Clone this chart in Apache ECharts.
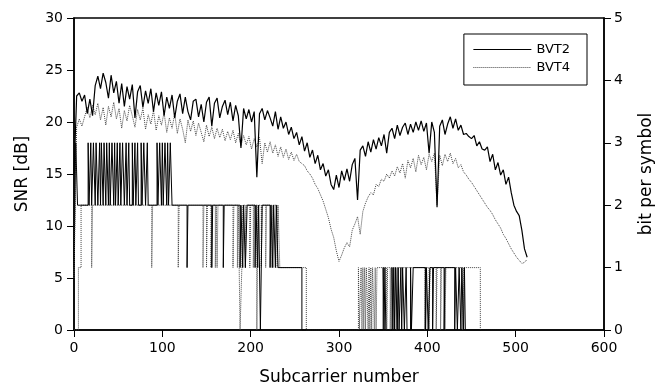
<!DOCTYPE html>
<html><head><meta charset="utf-8">
<script src="https://cdn.jsdelivr.net/npm/echarts@6/dist/echarts.min.js"></script>
<style>html,body{margin:0;padding:0;background:#fff}#c{width:667px;height:388px}</style>
</head><body><div id="c"></div>
<script>
// Subcarrier sampling step for SNR arrays (values at 0,3,6,...,513)
const snrStep = 3;
const bvt2Snr = [
15.0,22.5,22.8,22.0,22.6,20.8,22.2,20.6,23.5,24.4,23.2,24.7,23.8,22.3,24.5,22.8,23.9,21.8,23.7,21.5,
23.4,22.2,23.6,20.4,22.9,23.5,21.4,23.0,21.8,23.2,21.0,22.8,21.6,22.9,20.6,22.4,21.3,22.6,20.4,22.0,
22.7,20.8,22.4,21.0,20.2,22.0,22.2,20.5,21.7,20.0,21.9,22.4,19.6,21.8,22.3,20.4,21.5,22.1,20.7,21.9,
20.1,21.6,20.6,17.5,21.3,20.3,21.2,20.0,21.0,14.7,20.8,21.3,20.2,21.1,20.4,19.6,21.0,19.3,20.5,19.4,
20.0,18.8,19.5,18.4,19.0,17.8,18.6,17.2,18.0,16.6,17.3,16.0,16.8,15.4,16.0,14.8,15.4,14.0,13.5,14.9,
13.7,15.3,14.4,15.5,14.3,15.9,16.5,12.5,17.3,17.7,16.7,18.1,17.1,18.3,17.4,18.5,17.7,18.8,17.0,19.0,
19.4,18.4,19.7,18.7,19.5,19.9,18.8,19.8,19.0,20.0,19.2,20.1,19.1,19.9,17.0,20.0,19.0,11.8,19.6,20.2,
18.8,19.8,20.5,19.4,20.3,19.2,19.7,18.8,18.9,18.6,18.4,18.7,17.7,18.1,17.4,17.3,17.6,16.2,16.9,15.4,
16.1,14.9,15.4,14.0,14.7,13.2,12.0,11.4,11.0,9.6,7.8,7.0
];
const bvt4Snr = [
5.0,19.5,20.3,19.6,20.5,21.4,20.4,21.6,20.7,21.8,20.2,21.4,19.7,21.5,20.5,21.9,20.3,21.3,19.4,21.1,
20.1,21.6,20.6,19.5,21.2,20.2,21.3,19.3,20.7,19.8,21.1,19.2,20.6,19.7,20.9,19.0,20.4,19.4,20.8,18.9,
20.3,19.3,18.0,20.2,19.1,20.1,18.7,19.9,19.0,18.1,19.7,18.6,19.5,18.4,19.4,18.5,19.3,18.2,19.1,18.3,
19.2,18.0,18.9,17.7,18.7,17.8,18.6,17.4,18.4,17.6,18.5,16.0,18.0,17.1,18.1,17.0,17.8,16.7,17.6,16.6,
17.4,16.4,17.1,16.3,16.9,16.2,16.0,15.8,15.3,15.0,14.6,14.0,13.6,13.0,12.4,11.6,10.8,9.7,8.9,7.6,
6.6,7.2,7.9,8.4,8.0,9.6,10.2,10.9,9.2,11.4,12.2,12.8,13.2,13.0,14.0,13.8,14.5,14.3,15.0,14.6,
15.3,14.8,15.7,15.1,16.0,14.6,16.3,15.6,16.5,15.2,16.8,15.9,16.6,15.4,16.9,16.2,17.0,12.0,16.8,15.8,
16.9,16.2,17.0,16.0,16.5,15.6,15.9,15.2,14.9,14.5,14.2,13.8,13.4,13.0,12.6,12.2,11.8,11.5,11.1,10.6,
10.2,9.8,9.2,8.8,8.3,7.8,7.4,7.0,6.7,6.4,6.5,6.8
];
// Bit loading: [subcarrier where level starts, bits per symbol]
const bvt2Bits = [
[0,1],[2,3],[4,2],[16,3],[17,2],[19,3],[20,2],[22,3],[24,2],[25,3],[27,2],[29,3],[30,2],[31,3],[33,2],
[34,3],[36,2],[37,3],[39,2],[40,3],[41,2],[43,3],[45,2],[46,3],[47,2],[49,3],[50,2],[52,3],[53,2],[55,3],
[57,2],[59,3],[60,2],[62,3],[63,2],[66,3],[67,2],[69,3],[70,2],[72,3],[73,2],[76,3],[77,2],[79,3],[81,2],
[83,3],[84,2],[94,3],[95,2],[97,3],[99,2],[100,3],[101,2],[103,3],[105,2],[106,3],[107,2],[109,3],[111,2],
[128,1],[129,2],[156,1],[157,2],[169,1],[170,2],[188,1],[189,2],[191,1],[192,2],[194,1],[196,2],[205,1],[206,2],
[208,1],[209,2],[211,0],[212,1],[213,2],[222,1],[223,2],[225,1],[226,2],[228,1],[229,2],[231,1],[233,1],
[258,0],[350,1],[351,0],[352,1],[353,0],[360,1],[361,0],[362,1],[363,0],[364,1],[366,0],[367,1],[368,0],
[370,1],[371,0],[372,1],[374,0],[376,1],[377,0],[381,1],[382,0],[384,1],[398,0],[399,1],[401,0],[403,1],
[406,0],[407,1],[419,0],[420,1],[431,0],[432,1],[434,0],[436,1],[438,0],[439,1],[441,0],[442,1],[443,0],[512,0]
];
const bvt4Bits = [
[0,0],[5,1],[8,2],[20,1],[21,2],[88,1],[89,2],[118,1],[119,2],[146,1],[147,2],[150,1],[151,2],[155,1],[156,2],
[160,1],[161,2],[162,1],[163,2],[180,1],[181,2],[185,1],[186,2],[188,0],[190,1],[191,2],[194,1],[195,2],
[199,1],[200,2],[203,1],[204,2],[207,0],[208,2],[212,1],[213,2],[217,1],[218,2],[224,1],[225,2],[230,1],[231,2],
[233,1],[263,0],[322,1],[323,0],[325,1],[326,0],[327,1],[328,0],[329,1],[330,0],[331,1],[333,0],[334,1],
[335,0],[336,1],[337,0],[338,1],[340,0],[341,1],[342,0],[343,1],[354,0],[355,1],[358,0],[359,1],[365,0],
[366,1],[397,0],[398,1],[402,0],[403,1],[410,0],[411,1],[415,0],[416,1],[420,0],[421,1],[440,0],[441,1],
[460,0],[512,0]
];
const xTicks = [0,100,200,300,400,500,600];

const font = 'DejaVu Sans';
const toXY = arr => arr.map((v,i) => [i*snrStep, v]);
const chart = echarts.init(document.getElementById('c'), null, {renderer:'canvas'});
const axisCommon = {
  axisLine:{show:true, lineStyle:{color:'#000', width:1.5}},
  axisTick:{show:true, inside:false, length:7, lineStyle:{color:'#000', width:1}},
  splitLine:{show:false},
  nameTextStyle:{fontFamily:font, fontSize:17, color:'#000'},
  axisLabel:{fontFamily:font, fontSize:14, color:'#000'}
};
chart.setOption({
  animation:false,
  grid:{left:74, right:63, top:18, bottom:58, show:true, borderColor:'#000', borderWidth:1.5,
        containLabel:false, outerBoundsMode:'none'},
  legend:{
    data:[
      {name:'BVT2', itemStyle:{opacity:0}, lineStyle:{type:'solid', color:'#000', width:1, opacity:1}},
      {name:'BVT4', itemStyle:{opacity:0}, lineStyle:{type:'dotted', color:'#444', width:1, opacity:1}}
    ],
    orient:'vertical', right:80, top:34, borderColor:'#000', borderWidth:1,
    padding:[9,17,11,9], itemWidth:58, itemHeight:14, itemGap:5,
    itemStyle:{opacity:0},
    textStyle:{fontFamily:font, fontSize:13, color:'#000'}
  },
  xAxis:Object.assign({}, axisCommon, {
    type:'value', min:0, max:600, interval:100,
    name:'Subcarrier number', nameLocation:'middle', nameGap:39,
    axisLabel:Object.assign({}, axisCommon.axisLabel, {margin:11})
  }),
  yAxis:[
    Object.assign({}, axisCommon, {
      type:'value', min:0, max:30, interval:5, position:'left',
      name:'SNR [dB]', nameLocation:'middle', nameGap:43, nameRotate:90,
      axisLabel:Object.assign({}, axisCommon.axisLabel, {margin:11})
    }),
    Object.assign({}, axisCommon, {
      type:'value', min:0, max:5, interval:1, position:'right',
      name:'bit per symbol', nameLocation:'middle', nameGap:34, nameRotate:90,
      axisLabel:Object.assign({}, axisCommon.axisLabel, {margin:10})
    })
  ],
  series:[
    {name:'BVT4 bits', type:'line', yAxisIndex:1, step:'end', data:bvt4Bits, symbol:'none',
     lineStyle:{color:'#444', width:1, type:'dotted'}, silent:true},
    {name:'BVT2 bits', type:'line', yAxisIndex:1, step:'end', data:bvt2Bits, symbol:'none',
     lineStyle:{color:'#000', width:1}, silent:true},
    {name:'BVT4', type:'line', data:toXY(bvt4Snr), symbol:'none', color:'#444',
     lineStyle:{color:'#444', width:1, type:'dotted'}},
    {name:'BVT2', type:'line', data:toXY(bvt2Snr), symbol:'none', color:'#000',
     lineStyle:{color:'#000', width:1.2}}
  ]
});
</script></body></html>
